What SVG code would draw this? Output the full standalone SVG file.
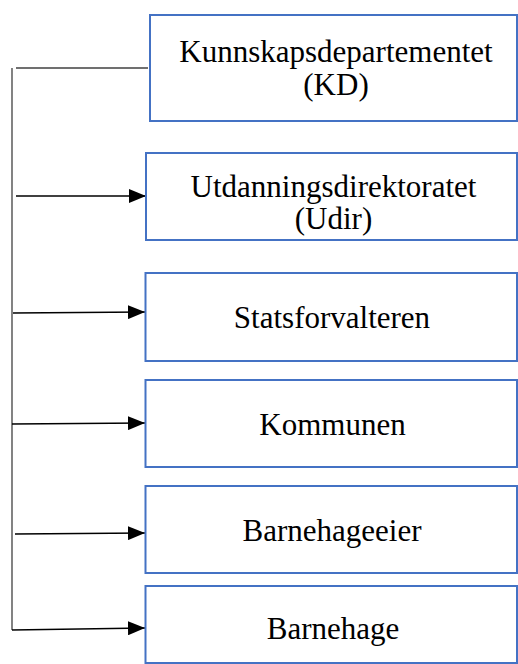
<svg xmlns="http://www.w3.org/2000/svg" width="518" height="664" viewBox="0 0 518 664">
<style>
.box{fill:#fff;stroke:#4472C4;stroke-width:2}
.t{font-family:"Liberation Serif","Times New Roman",serif;font-size:31px;fill:#000;text-anchor:middle}
.c{stroke:#404040;stroke-width:1.3;fill:none}
.a{stroke:#000;stroke-width:1.3;fill:none;marker-end:url(#ah)}
</style>
<defs>
<marker id="ah" markerWidth="18" markerHeight="14" refX="17" refY="7" orient="auto" markerUnits="userSpaceOnUse">
<path d="M0,0 L17,7 L0,14 Z" fill="#000"/>
</marker>
</defs>
<g id="connectors">
<path class="c" d="M12,68 L12,630"/>
<path class="c" d="M16,68 L148,68"/>
<path class="a" d="M16,196 L146,196"/>
<path class="a" d="M13,313 L145,312"/>
<path class="a" d="M12,424 L145,423"/>
<path class="a" d="M15,534 L145,533"/>
<path class="a" d="M12,630 L145,628"/>
</g>
<g id="kd">
<rect class="box" x="150" y="15" width="367" height="106"/>
<text class="t" x="336" y="62">Kunnskapsdepartementet</text>
<text class="t" x="336" y="95">(KD)</text>
</g>
<g id="udir">
<rect class="box" x="146" y="153" width="371" height="87"/>
<text class="t" x="333.5" y="197">Utdanningsdirektoratet</text>
<text class="t" x="333.5" y="229">(Udir)</text>
</g>
<g id="statsforvalteren">
<rect class="box" x="145.5" y="273" width="371.5" height="88"/>
<text class="t" x="332" y="328">Statsforvalteren</text>
</g>
<g id="kommunen">
<rect class="box" x="145.5" y="380" width="371.5" height="87"/>
<text class="t" x="332.5" y="435">Kommunen</text>
</g>
<g id="barnehageeier">
<rect class="box" x="145.5" y="486" width="371.5" height="87"/>
<text class="t" x="332" y="541">Barnehageeier</text>
</g>
<g id="barnehage">
<rect class="box" x="145.5" y="586" width="371.5" height="77"/>
<text class="t" x="333" y="639">Barnehage</text>
</g>
</svg>
